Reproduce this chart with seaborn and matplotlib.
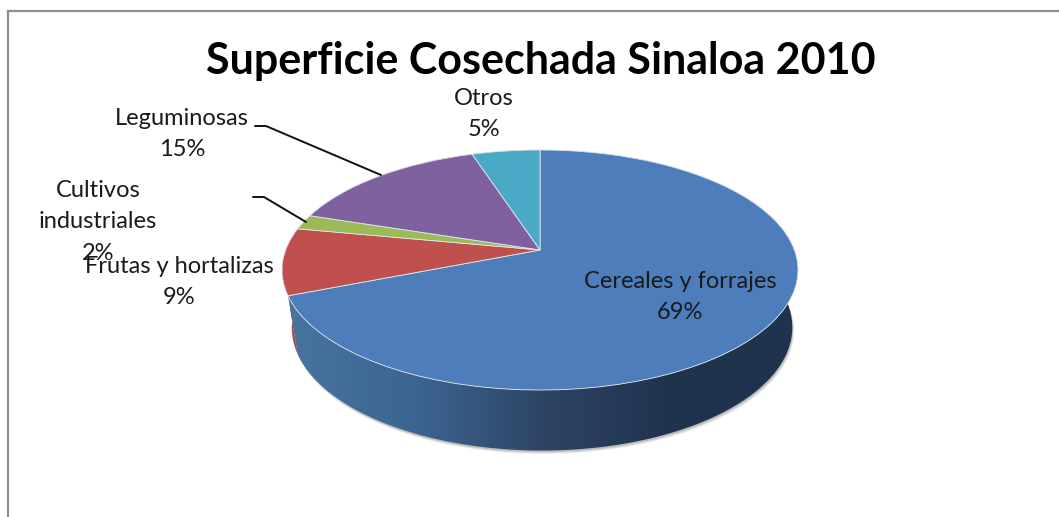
import numpy as np
import matplotlib
matplotlib.use("Agg")
import matplotlib.pyplot as plt
from matplotlib.patches import Polygon
from matplotlib.transforms import Transform
import seaborn as sns

title = "Superficie Cosechada Sinaloa 2010"
categories = ["Cereales y forrajes", "Frutas y hortalizas", "Cultivos\nindustriales", "Leguminosas", "Otros"]
shares = [69, 9, 2, 15, 5]
top_colors = ["#4d7ebb", "#c0504d", "#9bbb59", "#7f619f", "#4aa9c4"]
wall_colors = ["#3a5f8c", "#b04a47", "#6f8840", "#5c4674", "#35798c"]

# pixel geometry of the tilted disc
cx, cy = 540, 250
rx, ry, tilt = 254.4, 116.7, 1 / 6
label_xy = [(680, 297), (179, 282), (98, 222), (182, 134), (484, 114)]

sns.set_theme(style="white")
plt.rcParams["font.family"] = ["Lato", "DejaVu Sans"]


def project(u, v, scale_x=1.0, scale_y=1.0, drop=0.0, side=0.0):
    # unit disc -> picture, the far edge comes out smaller
    w = 1 + tilt * v
    return cx + side + scale_x * rx * u / w, cy - scale_y * ry * v / w + drop


class Tilt(Transform):
    input_dims = 2
    output_dims = 2

    def transform_non_affine(self, values):
        x, y = project(values[:, 0], values[:, 1])
        return np.column_stack([x, y])


fig = plt.figure(figsize=(10.59, 5.17), dpi=100, facecolor="white")
ax = fig.add_axes([0, 0, 1, 1])

wedges, _ = ax.pie(shares, colors=top_colors, startangle=90, counterclock=False,
                   radius=1, wedgeprops={"edgecolor": "#e3e9f0", "linewidth": 0.6})
ax.set_aspect("auto")
ax.axis("off")

# soft shadow under the disc
t = np.linspace(0, 2 * np.pi, 300)
for off, alpha in [(3.5, 0.10), (2.5, 0.15), (1.5, 0.2)]:
    bx, by = project(np.cos(t), np.sin(t), 0.97, 1.025, 57 + off, 2)
    ax.fill(bx + off / 2, by, color="#555555", alpha=alpha, lw=0, zorder=1)

# side walls, drawn back to front
edges = np.cumsum([0] + shares) / sum(shares)
for i in [4, 3, 2, 1, 0]:
    f = np.linspace(edges[i], edges[i + 1], 200) * 2 * np.pi
    tx, ty = project(np.sin(f), np.cos(f))
    bx, by = project(np.sin(f), np.cos(f), 0.97, 1.025, 57, 2)
    outline = np.column_stack([np.r_[tx, bx[::-1]], np.r_[ty, by[::-1]]])
    if i == 0:
        ramp = sns.blend_palette(["#47759f", "#3c6491", "#2d4465", "#1f334d", "#1f334d"], as_cmap=True)
        grad = ax.imshow(np.linspace(0, 1, 256)[None, :], cmap=ramp, aspect="auto",
                         extent=(290, 798, 460, 150), zorder=2)
        grad.set_clip_path(Polygon(outline, transform=ax.transData))
    else:
        ax.fill(outline[:, 0], outline[:, 1], color=wall_colors[i], lw=0, zorder=2)
ax.set_xlim(0, 1059)
ax.set_ylim(517, 0)

tilted = Tilt() + ax.transData
for w in wedges:
    w.set_transform(tilted)
    w.set_zorder(3)

# leader lines
ax.plot([255, 266, 381], [126, 126, 175], color="#111111", lw=1.4, zorder=4, solid_joinstyle="miter")
ax.plot([253, 264, 306], [197, 197, 222], color="#111111", lw=1.4, zorder=4, solid_joinstyle="miter")

# chart frame, runs off the right and bottom
ax.plot([7.5, 7.5, 1059], [517, 10.5, 10.5], color="#8f8f8f", lw=1.6, zorder=1, solid_joinstyle="miter")

for name, share, (x, y) in zip(categories, shares, label_xy):
    ax.text(x, y, f"{name}\n{share}%", ha="center", va="center", fontsize=17,
            color="#1a1a1a", linespacing=1.6, zorder=5)

ax.text(541, 61, title, ha="center", va="center", fontsize=31, fontweight="bold", color="black", zorder=5)

fig.savefig("out.png", dpi=100)
